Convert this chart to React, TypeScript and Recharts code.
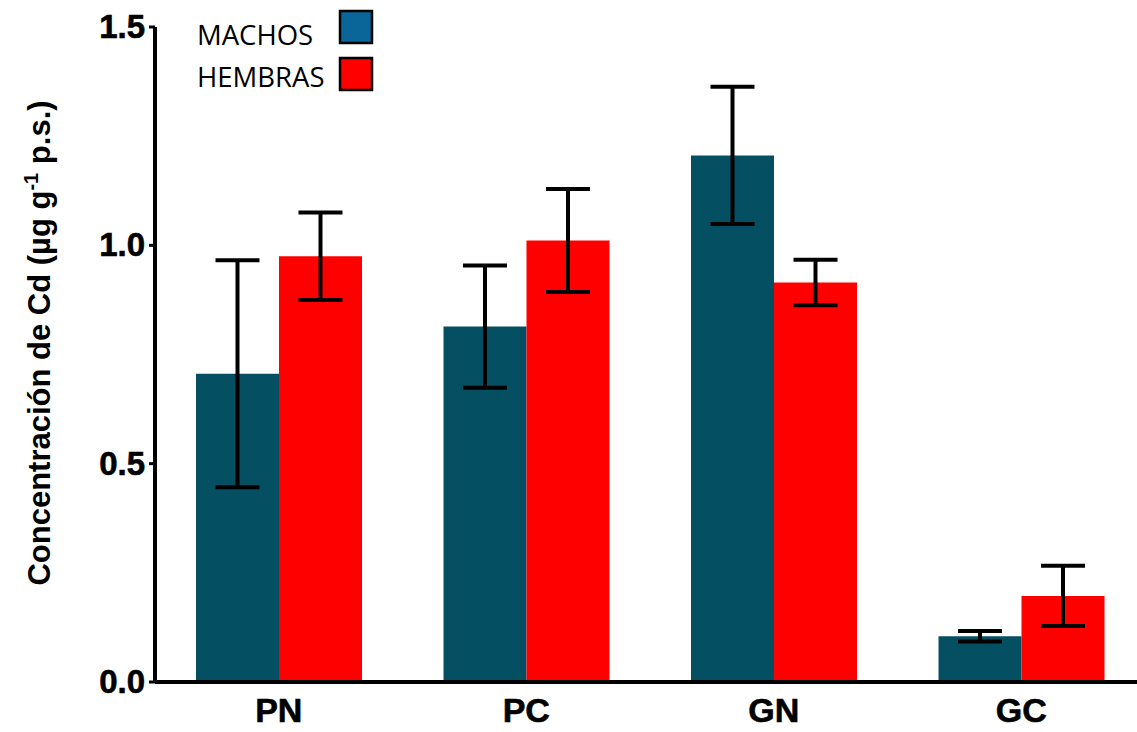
import React from 'react';
import { BarChart, Bar, XAxis, YAxis, ErrorBar } from 'recharts';

const categories = ['PN', 'PC', 'GN', 'GC'];
const machos = [0.706, 0.814, 1.206, 0.105];
const machosErr = [0.26, 0.14, 0.157, 0.012];
const hembras = [0.975, 1.011, 0.915, 0.197];
const hembrasErr = [0.1, 0.118, 0.052, 0.069];
const yTicks = [0, 0.5, 1.0, 1.5];

const data = categories.map((c, i) => ({
  cat: c,
  machos: machos[i],
  machosErr: machosErr[i],
  hembras: hembras[i],
  hembrasErr: hembrasErr[i],
}));

const legendItems = [
  { label: 'MACHOS', color: '#0A6598' },
  { label: 'HEMBRAS', color: '#FF0000' },
];

const LegendOverlay = () => (
  <svg width={200} height={100} style={{ position: 'absolute', left: 197, top: 0, overflow: 'visible' }}>
    {legendItems.map((it, i) => (
      <g key={it.label}>
        <text x={0} y={45 + i * 42} fontFamily="Open Sans" fontSize={27.5} fill="#000">
          {it.label}
        </text>
        <rect x={143} y={11 + i * 47} width={32} height={32} fill={it.color} stroke="#000" strokeWidth={2.5} />
      </g>
    ))}
  </svg>
);

const XTick = (props: any) => {
  const { x, y, payload } = props;
  return (
    <text x={x} y={y + 32} textAnchor="middle" fontFamily="Liberation Sans, Arial" fontWeight="bold" fontSize={34} fill="#000" stroke="#000" strokeWidth={0.6}>
      {payload.value}
    </text>
  );
};

const YTick = (props: any) => {
  const { x, y, payload } = props;
  return (
    <text x={x - 2} y={y + 11} textAnchor="end" fontFamily="Liberation Sans, Arial" fontWeight="bold" fontSize={33} fill="#000" stroke="#000" strokeWidth={0.6}>
      {Number(payload.value).toFixed(1)}
    </text>
  );
};

const YLabel = () => (
  <text
    transform="translate(50, 343) rotate(-90)"
    textAnchor="middle"
    fontFamily="Liberation Sans, Arial"
    fontWeight="bold"
    fontSize={31}
    fill="#000"
  >
    Concentración de Cd (µg g
    <tspan dy={-12} fontSize={20}>-1</tspan>
    <tspan dy={12}> p.s.)</tspan>
  </text>
);

export default function App() {
  return (
    <div style={{ position: 'absolute', left: 0, top: 0, width: 1137, height: 732, overflow: 'hidden', background: '#fff' }}>
      <BarChart
        width={1145}
        height={732}
        data={data}
        margin={{ top: 27, right: 0, bottom: 0, left: 0 }}
        barCategoryGap={41}
        barGap={0}
      >
        <XAxis
          dataKey="cat"
          height={50}
          axisLine={{ stroke: '#000', strokeWidth: 4 }}
          tickLine={false}
          tick={<XTick />}
          interval={0}
        />
        <YAxis
          width={155}
          domain={[0, 1.5]}
          ticks={yTicks}
          axisLine={{ stroke: '#000', strokeWidth: 4 }}
          tickLine={{ stroke: '#000', strokeWidth: 3 }}
          tickSize={6}
          tick={<YTick />}
          label={<YLabel />}
        />
        <Bar dataKey="machos" name="MACHOS" fill="#054F63" isAnimationActive={false}>
          <ErrorBar dataKey="machosErr" width={22} stroke="#000" strokeWidth={4} direction="y" />
        </Bar>
        <Bar dataKey="hembras" name="HEMBRAS" fill="#FF0000" isAnimationActive={false}>
          <ErrorBar dataKey="hembrasErr" width={22} stroke="#000" strokeWidth={4} direction="y" />
        </Bar>
      </BarChart>
      <LegendOverlay />
    </div>
  );
}
